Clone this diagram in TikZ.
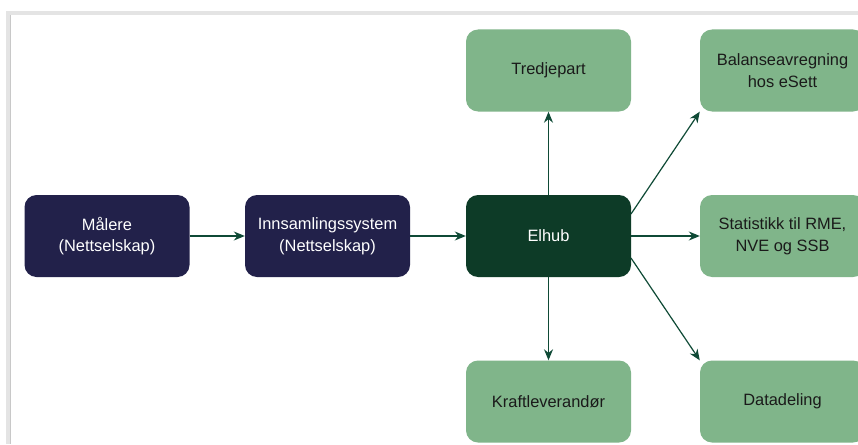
\documentclass[tikz,border=0pt]{standalone}
\usepackage{fontspec}
\setmainfont{Liberation Sans}
\usetikzlibrary{arrows.meta}
\definecolor{navy}{HTML}{22214A}
\definecolor{hubgreen}{HTML}{0D3B27}
\definecolor{lightgreen}{HTML}{80B58A}
\definecolor{arrowgreen}{HTML}{0F4A36}
\definecolor{txtdark}{HTML}{1A1A1A}
\definecolor{frameA}{HTML}{E4E4E4}
\definecolor{frameB}{HTML}{C8C8C8}
\begin{document}
\begin{tikzpicture}[x=1pt,y=-1pt,
  box/.style={rounded corners=12pt, minimum width=165pt, minimum height=82pt, inner sep=0pt, align=center, font=\fontsize{16.4}{21.6}\selectfont},
  darkbox/.style={box, fill=navy, text=white},
  hubbox/.style={box, fill=hubgreen, text=white},
  lightbox/.style={box, fill=lightgreen, text=txtdark},
  conn/.style={draw=arrowgreen, line width=1.2pt, -{Stealth[length=11pt,width=9pt]}}]
\useasboundingbox (0,0) rectangle (858,444);
\clip (0,0) rectangle (858,444);
\fill[white] (0,0) rectangle (858,444);
\fill[frameA] (6,11) rectangle (858,15);
\fill[frameA] (6,11) rectangle (10,444);
\fill[frameB] (9.5,15) rectangle (11,444);
\node[darkbox] (maal) at (107,236) {Målere\\(Nettselskap)};
\node[darkbox] (inn) at (327.5,236) {Innsamlingssystem\\(Nettselskap)};
\node[hubbox] (elhub) at (548.5,236) {Elhub};
\node[lightbox] (tred) at (548.5,70.5) {Tredjepart};
\node[lightbox] (bal) at (782.5,70.5) {Balanseavregning\\hos eSett};
\node[lightbox] (stat) at (782.5,236) {Statistikk til RME,\\NVE og SSB};
\node[lightbox] (kraft) at (548.5,401.5) {Kraftleverandør};
\node[lightbox] (data) at (782.5,401.5) {Datadeling};
\coordinate (eNE) at (631,214);
\coordinate (eSE) at (631,258);
\draw[conn] (maal) -- (inn);
\draw[conn] (inn) -- (elhub);
\draw[conn] (elhub) -- (stat);
\draw[conn] (elhub) -- (tred);
\draw[conn] (elhub) -- (kraft);
\draw[conn] (eNE) -- (bal.south west);
\draw[conn] (eSE) -- (data.north west);
\end{tikzpicture}
\end{document}
